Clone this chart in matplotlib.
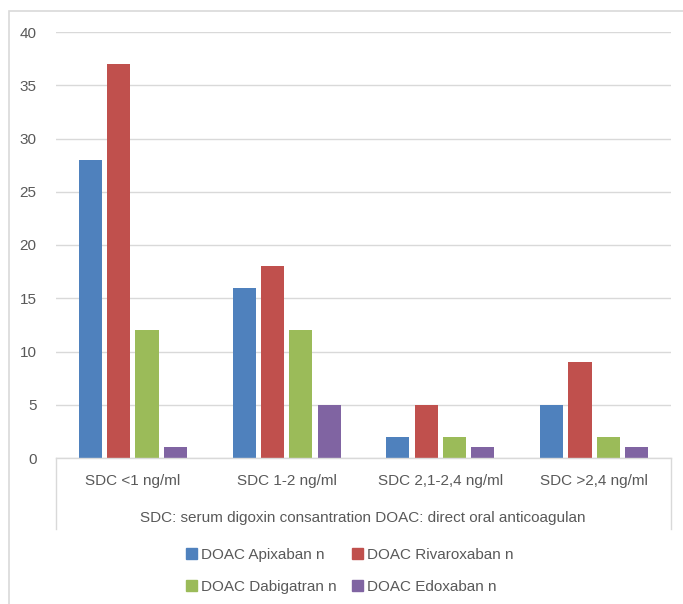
import matplotlib
matplotlib.use("Agg")
import matplotlib.pyplot as plt
from matplotlib.patches import Rectangle
from matplotlib.lines import Line2D
import numpy as np

categories = ["SDC <1 ng/ml", "SDC 1-2 ng/ml", "SDC 2,1-2,4 ng/ml", "SDC >2,4 ng/ml"]
series_names = ["DOAC Apixaban n", "DOAC Rivaroxaban n", "DOAC Dabigatran n", "DOAC Edoxaban n"]
apixaban = [28, 16, 2, 5]
rivaroxaban = [37, 18, 5, 9]
dabigatran = [12, 12, 2, 2]
edoxaban = [1, 5, 1, 1]
y_ticks = [0, 5, 10, 15, 20, 25, 30, 35, 40]
axis_title = "SDC: serum digoxin consantration DOAC: direct oral anticoagulan"
colors = ["#4F81BD", "#C0504D", "#9BBB59", "#8064A2"]

plt.rcParams['font.family'] = ['Liberation Sans', 'DejaVu Sans']
W, H = 683, 604
fig = plt.figure(figsize=(W/100, H/100), dpi=100)

def fx(px): return px / W
def fy(py): return 1 - py / H

# outer border
fig.patches.append(Rectangle((fx(8.5), fy(700)), fx(700), fy(10.5) - fy(700), transform=fig.transFigure,
                             fill=False, edgecolor="#D9D9D9", linewidth=1.2))

ax = fig.add_axes([fx(56), fy(458), fx(671) - fx(56), fy(32) - fy(458)])
x = np.arange(len(categories))
bw = 0.15
step = 0.184
all_series = [apixaban, rivaroxaban, dabigatran, edoxaban]
bars = []
for i, (vals, c, name) in enumerate(zip(all_series, colors, series_names)):
    bars.append(ax.bar(x + (i - 1.5) * step, vals, width=bw, color=c, label=name, zorder=3))

ax.set_xlim(-0.5, len(categories) - 0.5)
ax.set_ylim(0, 40)
ax.set_yticks(y_ticks)
ax.yaxis.grid(True, color="#D9D9D9", linewidth=1)
ax.set_axisbelow(True)
for s in ["top", "right", "left", "bottom"]:
    ax.spines[s].set_visible(False)
ax.tick_params(axis="y", length=0, labelsize=11, labelcolor="#595959", pad=14)
ax.set_xticks([])

# category box lines
box_col = "#D9D9D9"
fig.add_artist(Line2D([fx(56), fx(671)], [fy(458), fy(458)], transform=fig.transFigure, color=box_col, lw=1))
fig.add_artist(Line2D([fx(56), fx(56)], [fy(458), fy(529)], transform=fig.transFigure, color=box_col, lw=1))
fig.add_artist(Line2D([fx(670.5), fx(670.5)], [fy(458), fy(529)], transform=fig.transFigure, color=box_col, lw=1))

for xi, cat in zip(x, categories):
    ax.text(xi, -2.2, cat, ha="center", va="center", fontsize=11, color="#595959", clip_on=False)

fig.text(fx(363), fy(518), axis_title, ha="center", va="center", fontsize=11, color="#595959")

handles = [Rectangle((0, 0), 1, 1, color=c) for c in colors]
order = [0, 2, 1, 3]
leg = fig.legend([handles[i] for i in order], [series_names[i] for i in order],
                 loc="center", bbox_to_anchor=(fx(350), fy(571)),
                 ncol=2, frameon=False, fontsize=11, labelcolor="#595959",
                 handlelength=0.7, handleheight=0.7, handletextpad=0.3,
                 columnspacing=1.0, labelspacing=1.2)

fig.savefig("out.png", dpi=100)
